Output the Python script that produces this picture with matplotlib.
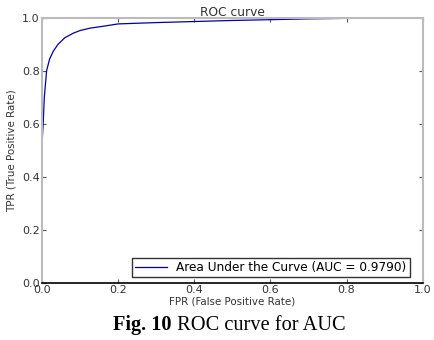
import matplotlib
matplotlib.use('Agg')
from matplotlib import pyplot as plt

# ROC points
fpr = [0.0, 0.0, 0.001, 0.003, 0.006, 0.012, 0.02, 0.03, 0.042, 0.06, 0.082,
       0.1, 0.126, 0.16, 0.2, 0.3, 0.4, 0.5, 0.6, 0.7, 0.8, 0.9, 1.0]
tpr = [0.0, 0.44, 0.55, 0.6, 0.7, 0.8, 0.845, 0.875, 0.9, 0.925, 0.942,
       0.952, 0.961, 0.968, 0.977, 0.982, 0.986, 0.99, 0.993, 0.996, 0.998, 0.999, 1.0]
auc_label = 'Area Under the Curve (AUC = 0.9790)'
ticks = [0.0, 0.2, 0.4, 0.6, 0.8, 1.0]

fig = plt.figure(figsize=(4.35, 3.4), dpi=100)
ax = fig.add_axes([0.0966, 0.1676, 0.875, 0.78])

ax.plot(fpr, tpr, color='#0000aa', lw=0.9, label=auc_label)
ax.set_xlim(0, 1)
ax.set_ylim(0, 1)
ax.set_xticks(ticks)
ax.set_yticks(ticks)
ax.tick_params(direction='in', top=True, right=True, labelsize=8, length=3,
               color='#555555', labelcolor='#333333', pad=1.5)

for side in ['left', 'top', 'right']:
    ax.spines[side].set_color('#bbbbbb')
    ax.spines[side].set_linewidth(1.5)
ax.spines['bottom'].set_color('black')
ax.spines['bottom'].set_linewidth(1.2)

ax.set_title('ROC curve', fontsize=8.8, pad=1.5, color='#333333')
ax.set_xlabel('FPR (False Positive Rate)', fontsize=7.4, labelpad=1, color='#333333')
ax.set_ylabel('TPR (True Positive Rate)', fontsize=7.4, labelpad=4, color='#333333')

leg = ax.legend(loc='lower right', bbox_to_anchor=(0.982, 0.0), fontsize=8.7,
                fancybox=False, framealpha=1, borderpad=0.25, handlelength=2.6,
                borderaxespad=0.5)
leg.get_frame().set_edgecolor('#333333')

fig.text(0.395, 0.044, 'Fig. 10', fontsize=14.7, fontweight='bold', family='Liberation Serif',
         ha='right', va='center')
fig.text(0.395, 0.044, ' ROC curve for AUC', fontsize=14.7, family='Liberation Serif',
         ha='left', va='center')

plt.savefig('out.png', dpi=100)
